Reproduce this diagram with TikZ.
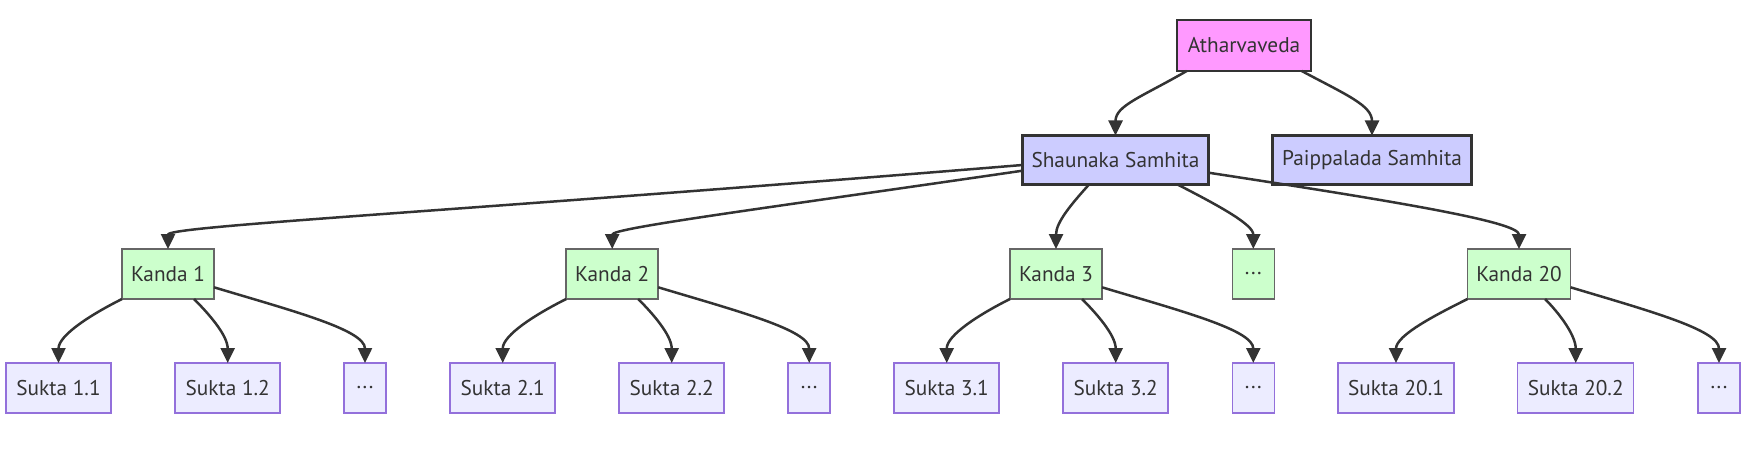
\documentclass[tikz,border=0pt]{standalone}
\usepackage{fontspec}
\setmainfont{PT Sans}
\usetikzlibrary{arrows.meta,calc}
\definecolor{edgec}{HTML}{333333}
\definecolor{txtc}{HTML}{333333}
\definecolor{rootfill}{HTML}{FF99FF}
\definecolor{samfill}{HTML}{CCCCFF}
\definecolor{kanfill}{HTML}{CCFFCC}
\definecolor{kanline}{HTML}{666666}
\definecolor{sukfill}{HTML}{ECECFF}
\definecolor{sukline}{HTML}{9370DB}
\tikzset{
  box/.style={rectangle, inner sep=0pt, outer sep=0pt, minimum height=50pt, text=txtc, font=\fontsize{21.3}{24}\selectfont},
  rootbox/.style={box, fill=rootfill, draw=edgec, line width=2.5pt, minimum height=51pt},
  sambox/.style={box, fill=samfill, draw=edgec, line width=2.5pt, minimum height=49pt},
  kanbox/.style={box, fill=kanfill, draw=kanline, line width=1.5pt},
  sukbox/.style={box, fill=sukfill, draw=sukline, line width=1.5pt},
  link/.style={draw=edgec, line width=2.5pt, -{Triangle[length=15pt,width=14pt]}}
}
\newcommand{\dotsx}{.\kern1.5pt.\kern1.5pt.}
\begin{document}
\begin{tikzpicture}[x=1pt,y=-1pt]
\useasboundingbox (0,0) rectangle (1747,465);
% level 0/1
\node[rootbox, minimum width=134pt] (ath) at (1244,45.5) {Atharvaveda};
\node[sambox, minimum width=186pt] (sha) at (1115.5,160) {Shaunaka Samhita};
\node[sambox, minimum width=199pt] (pai) at (1372,160) {Paippalada Samhita};
% kandas
\node[kanbox, minimum width=92pt] (k1) at (168,274) {Kanda 1};
\node[kanbox, minimum width=92pt] (k2) at (612.2,274) {Kanda 2};
\node[kanbox, minimum width=92pt] (k3) at (1056,274) {Kanda 3};
\node[kanbox, minimum width=42pt] (kd) at (1253.3,274) {\dotsx};
\node[kanbox, minimum width=103pt] (k20) at (1519,274) {Kanda 20};
% suktas
\node[sukbox, minimum width=105pt] (s1a) at (58.5,388) {Sukta 1.1};
\node[sukbox, minimum width=105pt] (s1b) at (227.7,388) {Sukta 1.2};
\node[sukbox, minimum width=42pt] (s1c) at (365,388) {\dotsx};
\node[sukbox, minimum width=105pt] (s2a) at (502.7,388) {Sukta 2.1};
\node[sukbox, minimum width=105pt] (s2b) at (671.7,388) {Sukta 2.2};
\node[sukbox, minimum width=42pt] (s2c) at (809.2,388) {\dotsx};
\node[sukbox, minimum width=105pt] (s3a) at (946.7,388) {Sukta 3.1};
\node[sukbox, minimum width=105pt] (s3b) at (1115.7,388) {Sukta 3.2};
\node[sukbox, minimum width=42pt] (s3c) at (1253.3,388) {\dotsx};
\node[sukbox, minimum width=116pt] (s20a) at (1396,388) {Sukta 20.1};
\node[sukbox, minimum width=116pt] (s20b) at (1575.7,388) {Sukta 20.2};
\node[sukbox, minimum width=42pt] (s20c) at (1719,388) {\dotsx};
% edges top
\draw[link] ($(ath.south west)+(9.7,0)$) .. controls +(-45,26) and +(0,-30) .. (sha.north);
\draw[link] ($(ath.south east)+(-9.3,0)$) .. controls +(45,24) and +(0,-30) .. (pai.north);
% edges shaunaka -> kandas
\draw[link] ($(sha.west)+(0,5)$) .. controls (450,212) and (168,226) .. (k1.north);
\draw[link] ($(sha.west)+(0,10.7)$) .. controls (760,209) and (612.2,228) .. (k2.north);
\draw[link] ($(sha.south)+(-26.5,0)$) .. controls +(-17,19) and +(0,-27) .. (k3.north);
\draw[link] ($(sha.south)+(62,0)$) .. controls +(45,23) and +(0,-24) .. (kd.north);
\draw[link] ($(sha.east)+(0,12.7)$) .. controls (1400,202) and (1519,222) .. (k20.north);
% kandas -> suktas
\foreach \k in {1,2,3,20}{
  \draw[link] (k\k.south west) .. controls +(-30,15) and +(0,-28) .. (s\k a.north);
  \draw[link] ($(k\k.south)+(26,0)$) .. controls +(14,14) and +(0,-28) .. (s\k b.north);
  \draw[link] ($(k\k.east)+(0,13.3)$) .. controls +(80,24) and +(0,-33) .. (s\k c.north);
}
\end{tikzpicture}
\end{document}
